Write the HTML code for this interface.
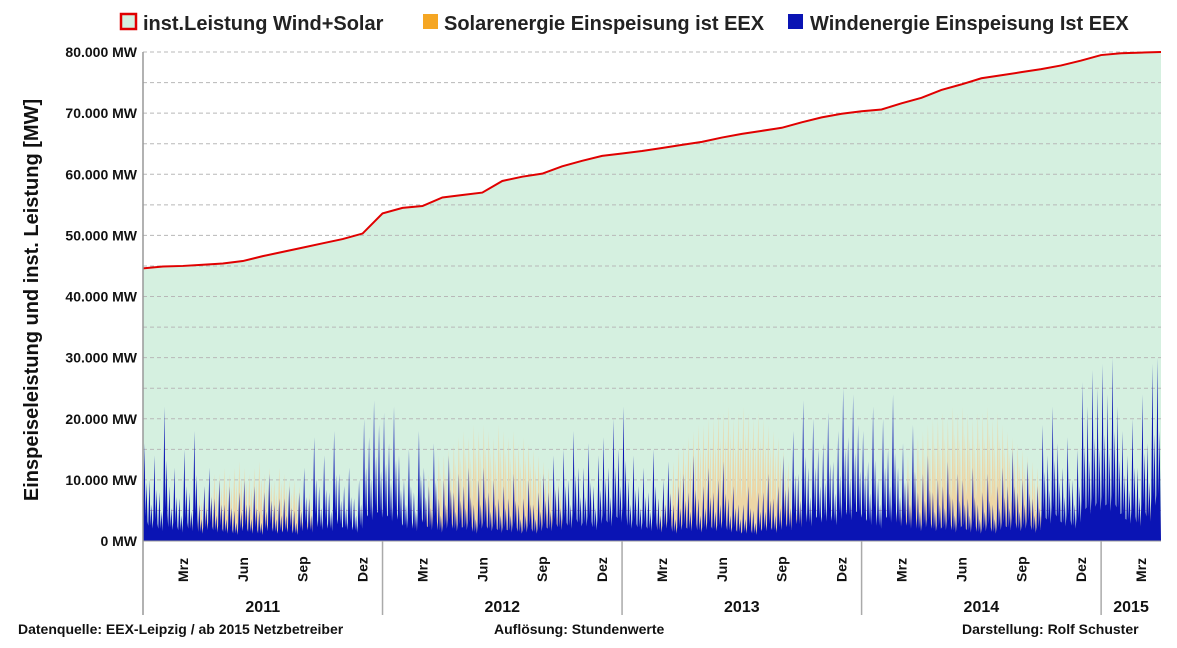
<!DOCTYPE html>
<html><head><meta charset="utf-8">
<style>
body{margin:0;background:#fff;}
svg text{font-family:"Liberation Sans",Arial,sans-serif;font-weight:bold;}
</style></head>
<body>
<svg id="c" width="1177" height="643" viewBox="0 0 1177 643" xmlns="http://www.w3.org/2000/svg">
<g id="legend">
  <rect x="121" y="14" width="15" height="15" fill="#d5f0e0" stroke="#e00000" stroke-width="2.5"/>
  <text x="143" y="30" font-size="20" fill="#222">inst.Leistung Wind+Solar</text>
  <rect x="423" y="14" width="15" height="15" fill="#f5a623"/>
  <text x="444" y="30" font-size="20" fill="#222">Solarenergie Einspeisung ist EEX</text>
  <rect x="788" y="14" width="15" height="15" fill="#0a14b4"/>
  <text x="810" y="30" font-size="20" fill="#222">Windenergie Einspeisung Ist EEX</text>
</g>
<g id="plot"></g>
<text transform="translate(38,300) rotate(-90)" text-anchor="middle" font-size="20" fill="#111">Einspeiseleistung  und   inst. Leistung [MW]</text>
<text x="18" y="634" font-size="14" fill="#111">Datenquelle:  EEX-Leipzig   /  ab 2015 Netzbetreiber</text>
<text x="494" y="634" font-size="14" fill="#111">Auflösung:  Stundenwerte</text>
<text x="962" y="634" font-size="14" fill="#111">Darstellung: Rolf Schuster</text>
</svg>
<script>
const capacity=[44.6,44.9,45.0,45.2,45.4,45.8,46.6,47.3,48.0,48.7,49.4,50.3,53.6,
54.5,54.8,56.2,56.6,57.0,58.9,59.6,60.1,61.3,62.2,63.0,
63.4,63.8,64.3,64.8,65.3,66.0,66.6,67.1,67.6,68.5,69.3,69.9,
70.3,70.6,71.6,72.5,73.8,74.7,75.7,76.2,76.7,77.2,77.8,78.6,
79.5,79.8,79.9,80.0];
const wind=[16,10,14,8,22,9,12,7,15,8,18,6,9,12,7,10,6,9,5,8,10,6,9,5,8,11,6,7,7,9,5,8,12,7,17,9,14,8,18,11,9,12,7,10,20,17,23,19,
21,16,22,14,10,15,8,18,12,9,16,7,10,14,8,11,9,12,6,10,12,8,10,7,9,7,11,6,7,10,6,8,11,8,14,9,15,10,18,12,12,16,9,14,17,12,20,15,
22,10,14,9,12,8,15,7,10,13,6,9,11,8,14,7,9,12,8,10,13,7,9,6,6,9,5,8,8,11,7,9,14,9,18,11,23,12,20,15,16,21,13,18,25,17,24,19,
18,13,22,10,20,15,24,12,16,10,19,8,11,14,8,10,9,13,7,11,10,7,12,6,8,11,6,9,12,9,15,8,10,13,7,9,19,14,22,16,12,17,10,15,26,22,28,25,
29,24,30,22,18,14,20,12,24,16,29,30];
const solar=[1,1,2,2,2,3,3,4,5,6,7,8,9,10,11,11,12,11,12,13,12,11,12,13,11,12,10,12,11,10,10,9,8,8,7,6,5,5,4,3,3,2,2,2,1,1,1,2,
2,2,3,3,4,5,6,7,9,11,13,14,14,15,16,17,18,17,19,18,19,18,17,19,18,17,18,16,17,16,15,14,13,12,11,10,9,7,6,5,4,3,3,2,2,2,1,2,
2,2,3,3,4,5,6,7,9,11,13,15,16,17,18,19,19,20,20,21,21,22,20,21,22,21,20,21,20,19,18,17,15,13,12,11,9,8,6,5,4,3,3,2,2,2,2,2,
2,3,3,4,5,6,8,9,12,14,16,17,18,19,20,20,21,20,22,21,22,21,20,21,21,22,20,21,19,18,17,16,15,14,13,12,10,8,7,6,4,4,3,3,2,2,2,2,
3,3,4,4,5,6,7,8,10,12,14,16];
const yTicks=[0,10000,20000,30000,40000,50000,60000,70000,80000];
const monthLabels=["Mrz","Jun","Sep","Dez"];
const years=["2011","2012","2013","2014","2015"];

const X0=143,X1=1161,Y0=541,YT=52,MW=(X1-X0)/51;
const y=v=>Y0-(v/80000)*(Y0-YT);
const xm=m=>X0+m*MW;
const NS="http://www.w3.org/2000/svg";
const plot=document.getElementById('plot');
function mk(t,a,p){const e=document.createElementNS(NS,t);for(const k in a)e.setAttribute(k,a[k]);(p||plot).appendChild(e);return e;}

let d=`M${X0},${Y0}`;capacity.forEach((v,i)=>{d+=`L${xm(i)},${y(v*1000)}`;});d+=`L${X1},${Y0}Z`;
let area=mk('path',{d:d,fill:'#d5f0e0'});


for(let v=5000;v<=80000;v+=5000){let g=mk('line',{x1:X0,x2:X1,y1:y(v),y2:y(v),stroke:'#b8b8b8','stroke-dasharray':'4,3','stroke-width':1});

}
function spikes(arr,color,name,base,mid){const w=(X1-X0)/arr.length;let p=`M${X0},${Y0}`;
arr.forEach((v,i)=>{const x=X0+i*w;p+=`L${x+w*0.05},${y(v*1000*base)}L${x+w*0.3},${y(v*1000)}L${x+w*0.5},${y(v*1000*base)}L${x+w*0.7},${y(v*1000*mid)}L${x+w*0.9},${y(v*1000*base*0.8)}`;});
p+=`L${X1},${Y0}Z`;const e=mk('path',{d:p,fill:color});

}
spikes(solar,'#ecd6a6','solar-series',0.4,0.8);
spikes(wind,'#0a14b4','wind-series',0.25,0.6);
let lp='';capacity.forEach((v,i)=>{lp+=(i?'L':'M')+xm(i)+','+y(v*1000);});
let ln=mk('path',{d:lp,fill:'none',stroke:'#e00000','stroke-width':2});


let ax=mk('line',{x1:X0,x2:X0,y1:YT,y2:615,stroke:'#999','stroke-width':1.5});


let bx=mk('line',{x1:X0,x2:X1,y1:Y0,y2:Y0,stroke:'#999','stroke-width':1});


yTicks.forEach(v=>{const t=mk('text',{x:137,y:y(v)+5,'text-anchor':'end','font-size':14,fill:'#111'});
t.textContent=(v===0?'0':(v/1000).toFixed(3))+' MW';

});
for(let m=0;m<51;m++){const mi=m%12;if(mi%3!==2)continue;const lab=monthLabels[(mi-2)/3];
const x=xm(m)+5;const t=mk('text',{transform:`translate(${x},${582}) rotate(-90)`,'font-size':14,fill:'#111'});
t.textContent=lab;

}
years.forEach((yr,i)=>{const a=xm(i*12),b=Math.min(xm(i*12+12),X1);
if(i>0){const l=mk('line',{x1:a,x2:a,y1:Y0,y2:615,stroke:'#aaa','stroke-width':1.5});

}
const t=mk('text',{x:(a+b)/2,y:612,'text-anchor':'middle','font-size':16,fill:'#111'});t.textContent=yr;

});
</script>
</body></html>
